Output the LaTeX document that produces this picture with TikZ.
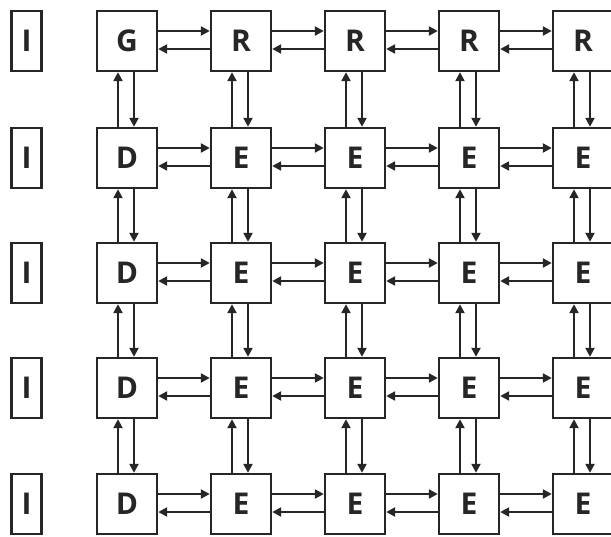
\documentclass[tikz,border=0pt]{standalone}
\usepackage{fontspec}
\newfontfamily\labfont{Open Sans}
\usetikzlibrary{arrows.meta}
\definecolor{ink}{HTML}{262626}
\tikzset{
  cell/.style={draw=ink, line width=2.4pt, minimum width=60pt, minimum height=60pt, inner sep=0pt,
    font=\labfont\bfseries\fontsize{30}{30}\selectfont, text=ink},
  ibox/.style={draw=ink, line width=2.4pt, minimum width=30pt, minimum height=60pt, inner sep=0pt,
    font=\labfont\bfseries\fontsize{30}{30}\selectfont, text=ink},
  arr/.style={draw=ink, line width=2.2pt, -{Triangle[length=9pt,width=9pt]}}
}
\begin{document}
\begin{tikzpicture}[x=1pt,y=-1pt]
\useasboundingbox (0,0) rectangle (611,536);
\clip (0,0) rectangle (611,536);
\fill[white] (0,0) rectangle (611,536);
% rows
\foreach \r/\yy in {1/41,2/158,3/273,4/388,5/504}{
  \node[ibox] (I\r) at (26.5,\yy) {I};
}
\foreach \c/\xx in {1/127,2/241,3/355,4/469,5/583}{
  \node[cell] (n-1-\c) at (\xx,41) {\ifnum\c=1 G\else R\fi};
  \foreach \r/\yy in {2/158,3/273,4/388,5/504}{
    \node[cell] (n-\r-\c) at (\xx,\yy) {\ifnum\c=1 D\else E\fi};
  }
}
% horizontal arrows
\foreach \r in {1,...,5}{
  \foreach \c [evaluate=\c as \d using int(\c+1)] in {1,...,4}{
    \draw[arr] ([yshift=10pt]n-\r-\c.east) -- ([yshift=10pt]n-\r-\d.west);
    \draw[arr] ([yshift=-8pt]n-\r-\d.west) -- ([yshift=-8pt]n-\r-\c.east);
  }
}
% vertical arrows
\foreach \c in {1,...,5}{
  \foreach \r [evaluate=\r as \s using int(\r+1)] in {1,...,4}{
    \draw[arr] ([xshift=-9pt]n-\s-\c.north) -- ([xshift=-9pt]n-\r-\c.south);
    \draw[arr] ([xshift=7pt]n-\r-\c.south) -- ([xshift=7pt]n-\s-\c.north);
  }
}
\end{tikzpicture}
\end{document}
